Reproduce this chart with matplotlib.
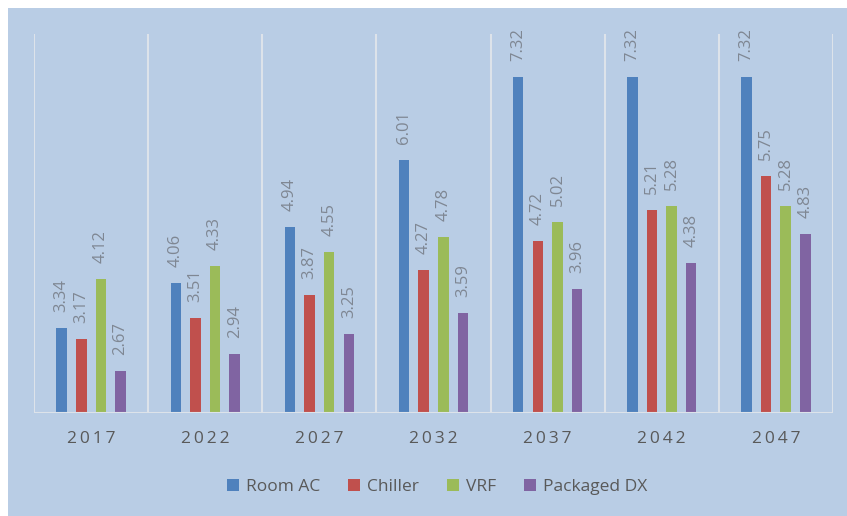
import matplotlib
matplotlib.use("Agg")
import matplotlib.pyplot as plt
from matplotlib.patches import Rectangle
import numpy as np

years = ["2017", "2022", "2027", "2032", "2037", "2042", "2047"]
series_names = ["Room AC", "Chiller", "VRF", "Packaged DX"]
room_ac = [3.34, 4.06, 4.94, 6.01, 7.32, 7.32, 7.32]
chiller = [3.17, 3.51, 3.87, 4.27, 4.72, 5.21, 5.75]
vrf = [4.12, 4.33, 4.55, 4.78, 5.02, 5.28, 5.28]
packaged_dx = [2.67, 2.94, 3.25, 3.59, 3.96, 4.38, 4.83]
colors = ["#4f81bd", "#c0504d", "#9bbb59", "#8064a2"]

plt.rcParams['font.family'] = ['Open Sans', 'DejaVu Sans']

bg = "#b9cde5"
fig = plt.figure(figsize=(8.47, 5.16), dpi=100, facecolor="white")
fig.patches.append(Rectangle((8/847, 0), 1, (516-8)/516, transform=fig.transFigure,
                             facecolor=bg, edgecolor="none", zorder=-10))
ax = fig.add_axes([34/847, 1-413/516, (833-34)/847, (413-34)/516])
ax.set_facecolor(bg)

x = np.arange(len(years))
step = 0.172
width = 0.092
data = [room_ac, chiller, vrf, packaged_dx]
for i, (name, vals, c) in enumerate(zip(series_names, data, colors)):
    pos = x + (i - 1.5) * step
    ax.bar(pos, np.array(vals) - 2, width, bottom=2, color=c, label=name, zorder=3)
    for p, v in zip(pos, vals):
        ax.annotate(f"{v:.2f}", (p, v), xytext=(0, 11.5), textcoords="offset points",
                    rotation=90, ha="center", va="bottom", fontsize=12, color="#7f8793")

ax.set_xlim(-0.5, len(years) - 0.5)
ax.set_ylim(2, 8)
for b in np.arange(-0.5, len(years), 1.0):
    ax.axvline(b, color="#dde3ea", lw=1.5, zorder=1)
ax.axhline(2, color="#dde3ea", lw=1.5, zorder=4)
for s in ax.spines.values():
    s.set_visible(False)
ax.set_yticks([])
ax.set_xticks(x)
ax.set_xticklabels(["\u2009".join(list(y)) for y in years], fontsize=12.5, color="#595959")
ax.tick_params(axis="x", length=0, pad=13)

leg = fig.legend(loc="center", bbox_to_anchor=(437/847, 1-487/516), ncol=4, frameon=False,
                 fontsize=12.5, handlelength=0.7, handleheight=0.7, columnspacing=1.6,
                 handletextpad=0.4)
for t in leg.get_texts():
    t.set_color("#595959")

fig.savefig("out.png", dpi=100, facecolor=fig.get_facecolor())
